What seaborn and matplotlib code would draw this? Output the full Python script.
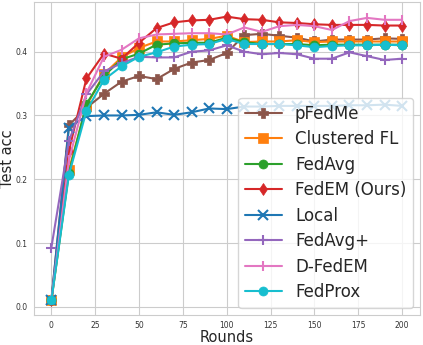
import matplotlib
matplotlib.use("Agg")
import matplotlib.pyplot as plt
import seaborn as sns

sns.set_style("whitegrid")

# communication rounds
rounds = list(range(0, 201, 10))

# test accuracy
pfedme = [0.01, 0.285, 0.312, 0.334, 0.353, 0.362, 0.357, 0.373, 0.383, 0.387, 0.398,
          0.426, 0.428, 0.425, 0.422, 0.416, 0.419, 0.419, 0.419, 0.421, 0.420]
clustered_fl = [0.01, 0.215, 0.315, 0.365, 0.391, 0.406, 0.416, 0.416, 0.418, 0.420, 0.425,
                0.415, 0.416, 0.416, 0.418, 0.415, 0.416, 0.416, 0.416, 0.416, 0.416]
fedavg = [0.01, 0.21, 0.318, 0.362, 0.388, 0.397, 0.411, 0.413, 0.414, 0.414, 0.422,
          0.415, 0.412, 0.412, 0.412, 0.410, 0.411, 0.411, 0.411, 0.411, 0.411]
fedem = [0.01, 0.245, 0.358, 0.397, 0.389, 0.414, 0.437, 0.446, 0.449, 0.450, 0.455,
         0.451, 0.450, 0.446, 0.445, 0.443, 0.442, 0.442, 0.442, 0.441, 0.441]
local = [0.01, 0.281, 0.299, 0.300, 0.300, 0.301, 0.305, 0.301, 0.305, 0.311, 0.310,
         0.314, 0.314, 0.315, 0.315, 0.315, 0.315, 0.316, 0.316, 0.317, 0.315]
fedavg_plus = [0.093, 0.26, 0.333, 0.369, 0.382, 0.392, 0.391, 0.391, 0.400, 0.402, 0.410,
               0.400, 0.396, 0.398, 0.396, 0.389, 0.389, 0.399, 0.393, 0.387, 0.389]
d_fedem = [0.01, 0.23, 0.335, 0.392, 0.403, 0.421, 0.427, 0.428, 0.429, 0.429, 0.427,
           0.438, 0.431, 0.440, 0.442, 0.440, 0.434, 0.448, 0.453, 0.450, 0.450]
fedprox = [0.01, 0.207, 0.307, 0.356, 0.377, 0.392, 0.399, 0.408, 0.411, 0.412, 0.420,
           0.412, 0.412, 0.412, 0.410, 0.407, 0.409, 0.410, 0.410, 0.411, 0.410]

labels = ["pFedMe", "Clustered FL", "FedAvg", "FedEM (Ours)", "Local",
          "FedAvg+", "D-FedEM", "FedProx"]
series = [pfedme, clustered_fl, fedavg, fedem, local, fedavg_plus, d_fedem, fedprox]
colors = ["tab:brown", "tab:orange", "tab:green", "tab:red", "tab:blue",
          "tab:purple", "tab:pink", "tab:cyan"]
markers = ["P", "s", "o", "d", "x", "+", "|", "o"]

fig = plt.figure(figsize=(4.23, 3.45), dpi=100)
ax = fig.add_axes([0.08, 0.088, 0.912, 0.905])

for lab, vals, col, mk in zip(labels, series, colors, markers):
    sns.lineplot(x=rounds, y=vals, ax=ax, label=lab, color=col, marker=mk,
                 markersize=6.5, linewidth=1.5, markeredgewidth=1.5 if mk in "x+|" else 0.5,
                 markeredgecolor=col)

ax.set_xticks([0, 25, 50, 75, 100, 125, 150, 175, 200])
ax.set_yticks([0.0, 0.1, 0.2, 0.3, 0.4])
ax.tick_params(labelsize=5.5, colors="#333333", pad=1)
ax.set_xlabel("Rounds", fontsize=10.5, labelpad=0)
ax.set_ylabel("Test acc", fontsize=10.5, labelpad=0)
ax.legend(loc="lower right", fontsize=12, labelspacing=0.45, handlelength=2.2,
          borderaxespad=0.4)

fig.savefig("out.png", dpi=100)
